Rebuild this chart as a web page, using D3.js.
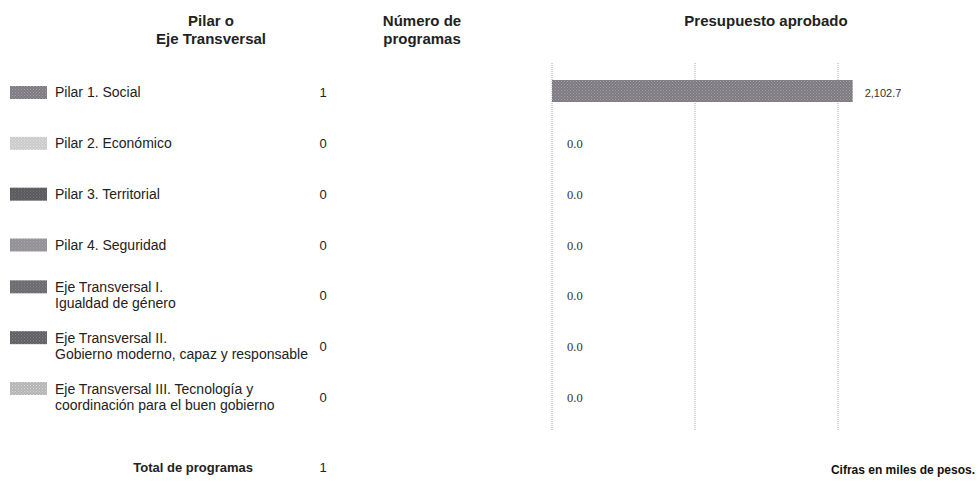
<!DOCTYPE html>
<html>
<head>
<meta charset="utf-8">
<script src="https://cdn.jsdelivr.net/npm/d3@7"></script>
<style>
  body { margin: 0; background: #fff; }
  svg { display: block; font-family: "Liberation Sans", Arial, sans-serif; }
</style>
</head>
<body>
<svg id="chart" width="980" height="483"></svg>
<script>
// data
const categories = [
  ["Pilar 1. Social"],
  ["Pilar 2. Económico"],
  ["Pilar 3. Territorial"],
  ["Pilar 4. Seguridad"],
  ["Eje Transversal I.", "Igualdad de género"],
  ["Eje Transversal II.", "Gobierno moderno, capaz y responsable"],
  ["Eje Transversal III. Tecnología y", "coordinación para el buen gobierno"]
]
const programas = [1, 0, 0, 0, 0, 0, 0]
const presupuesto = [2102.7, 0, 0, 0, 0, 0, 0]
const totalProgramas = 1
const gridTicks = [0, 1000, 2000]

// swatch tones (base, dot)
const swatchColors = [
  ["#7c7a80", "#a5a3a8"],
  ["#c9c9c9", "#e6e6e6"],
  ["#56565a", "#808083"],
  ["#8f8d92", "#b2b0b4"],
  ["#68676b", "#8f8e92"],
  ["#5e5d62", "#8a898d"],
  ["#b3b3b3", "#d8d8d8"]
]

const svg = d3.select('#chart')

const defs = svg.append('defs')
swatchColors.forEach((c, i) => {
  const p = defs.append('pattern')
    .attr('id', 'pat' + i)
    .attr('width', 3)
    .attr('height', 3)
    .attr('patternUnits', 'userSpaceOnUse')
  p.append('rect').attr('width', 3).attr('height', 3).attr('fill', c[0])
  p.append('rect').attr('x', 0).attr('y', 0).attr('width', 1).attr('height', 1).attr('fill', c[1])
  p.append('rect').attr('x', 1.5).attr('y', 1.5).attr('width', 1).attr('height', 1).attr('fill', c[1])
})

const idx = categories.map((d, i) => i)
const y = d3.scalePoint().domain(idx).range([92, 397])
const x = d3.scaleLinear().domain([0, 3000]).range([552, 981])

// headers
const head = svg.append('g')
  .attr('font-weight', 'bold')
  .attr('font-size', 15)
  .attr('fill', '#222')
  .attr('text-anchor', 'middle')
head.append('text').attr('x', 211).attr('y', 26).text('Pilar o')
head.append('text').attr('x', 211).attr('y', 44).text('Eje Transversal')
head.append('text').attr('x', 422).attr('y', 26).text('Número de')
head.append('text').attr('x', 422).attr('y', 44).text('programas')
head.append('text').attr('x', 766).attr('y', 26).text('Presupuesto aprobado')

// gridlines
svg.append('g')
  .selectAll('line')
  .data(gridTicks)
  .enter().append('line')
  .attr('x1', d => x(d))
  .attr('x2', d => x(d))
  .attr('y1', 63)
  .attr('y2', 430)
  .attr('stroke', '#a8a8a8')
  .attr('stroke-width', 1)
  .attr('stroke-dasharray', '1,1')

// legend rows
const rows = svg.append('g')
  .selectAll('g')
  .data(idx)
  .enter().append('g')
  .attr('transform', i => `translate(0,${y(i)})`)

rows.append('rect')
  .attr('x', 10)
  .attr('y', i => categories[i].length > 1 ? -15 : -6)
  .attr('width', 37)
  .attr('height', 13)
  .attr('fill', i => `url(#pat${i})`)

rows.append('text')
  .attr('font-size', 14)
  .attr('fill', '#222')
  .selectAll('tspan')
  .data(i => categories[i].map((t, k) => ({ t, k, n: categories[i].length })))
  .enter().append('tspan')
  .attr('x', 55)
  .attr('y', d => d.n > 1 ? (d.k === 0 ? -3 : 13) : 5)
  .text(d => d.t)

rows.append('text')
  .attr('x', 323)
  .attr('y', 5)
  .attr('font-size', 13)
  .attr('fill', '#222')
  .attr('text-anchor', 'middle')
  .text(i => programas[i])

// bars
svg.append('g')
  .selectAll('rect')
  .data(idx.filter(i => presupuesto[i] > 0))
  .enter().append('rect')
  .attr('x', x(0))
  .attr('y', i => y(i) - 12)
  .attr('width', i => x(presupuesto[i]) - x(0))
  .attr('height', 22)
  .attr('fill', 'url(#pat0)')

const fmt = d3.format(',.1f')
svg.append('g')
  .selectAll('text')
  .data(idx)
  .enter().append('text')
  .attr('x', i => presupuesto[i] > 0 ? x(presupuesto[i]) + 12 : x(0) + 15)
  .attr('y', i => y(i) + 5)
  .attr('font-size', i => presupuesto[i] > 0 ? 11 : 12.5)
  .attr('font-family', i => presupuesto[i] > 0 ? null : '"Liberation Serif", serif')
  .attr('fill', '#333')
  .text(i => fmt(presupuesto[i]))

// totals
svg.append('text')
  .attr('x', 253).attr('y', 472)
  .attr('text-anchor', 'end')
  .attr('font-weight', 'bold')
  .attr('font-size', 13)
  .attr('fill', '#222')
  .text('Total de programas')
svg.append('text')
  .attr('x', 323).attr('y', 472)
  .attr('text-anchor', 'middle')
  .attr('font-size', 13)
  .attr('fill', '#222')
  .text(totalProgramas)
svg.append('text')
  .attr('x', 975).attr('y', 474)
  .attr('text-anchor', 'end')
  .attr('font-weight', 'bold')
  .attr('font-size', 12)
  .attr('fill', '#111')
  .text('Cifras en miles de pesos.')
</script>
</body>
</html>
